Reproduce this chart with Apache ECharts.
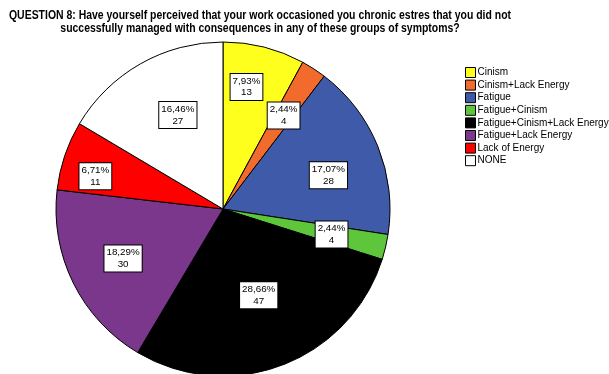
<!DOCTYPE html>
<html>
<head>
<meta charset="utf-8">
<script src="https://cdn.jsdelivr.net/npm/echarts@6/dist/echarts.min.js"></script>
<style>
  html, body { margin: 0; padding: 0; background: #fff; }
  #chart { width: 609px; height: 374px; }
</style>
</head>
<body>
<div id="chart"></div>
<script>
// Symptom groups and respondent counts
const categories = [
  'Cinism',
  'Cinism+Lack Energy',
  'Fatigue',
  'Fatigue+Cinism',
  'Fatigue+Cinism+Lack Energy',
  'Fatigue+Lack Energy',
  'Lack of Energy',
  'NONE'
];
const counts = [13, 4, 28, 4, 47, 30, 11, 27];

const titleLines = [
  'QUESTION 8: Have yourself perceived that your work occasioned you chronic estres that you did not',
  'successfully managed with consequences in any of these groups of symptoms?'
];

const sliceColors = {
  'Cinism': '#FFFF1E',
  'Cinism+Lack Energy': '#F26B2C',
  'Fatigue': '#3F5AA8',
  'Fatigue+Cinism': '#5EC63B',
  'Fatigue+Cinism+Lack Energy': '#000000',
  'Fatigue+Lack Energy': '#7A378C',
  'Lack of Energy': '#FF0000',
  'NONE': '#FFFFFF'
};
// fine placement of a few boxed labels
const labelShift = {
  'Cinism': [-4, -14],
  'Fatigue': [2, 8],
  'Fatigue+Cinism+Lack Energy': [-4, -18],
  'Lack of Energy': [-22, 3],
  'NONE': [10, 3]
};

const total = counts.reduce((a, b) => a + b, 0);
const pct = v => (v / total * 100).toFixed(2).replace('.', ',') + '%';

const pieData = categories.map((name, i) => ({
  name: name,
  value: counts[i],
  itemStyle: { color: sliceColors[name] }
}));
const labelData = categories.map((name, i) => ({
  name: name,
  value: counts[i],
  label: labelShift[name] ? { offset: labelShift[name] } : {}
}));

const center = [223, 209];
const R = 167;

// condensed bold heading: squeeze the first line to its printed width
const titleFont = 'bold 12.5px "Liberation Sans", Arial, sans-serif';
const ctx = document.createElement('canvas').getContext('2d');
ctx.font = titleFont;
const titleScale = 502 / ctx.measureText(titleLines[0]).width;

const chart = echarts.init(document.getElementById('chart'), null, { renderer: 'canvas' });
chart.setOption({
  backgroundColor: '#ffffff',
  animation: false,
  graphic: [
    {
      type: 'text',
      x: 260,
      y: 9,
      scaleX: titleScale,
      silent: true,
      style: {
        text: titleLines.join('\n'),
        font: titleFont,
        lineHeight: 13,
        textAlign: 'center',
        textVerticalAlign: 'top',
        fill: '#000'
      }
    }
  ],
  legend: {
    orient: 'vertical',
    left: 465,
    top: 67,
    padding: 0,
    itemWidth: 10,
    itemHeight: 10,
    itemGap: 1.6,
    icon: 'rect',
    selectedMode: false,
    itemStyle: { borderColor: '#000', borderWidth: 1 },
    textStyle: {
      fontFamily: 'Liberation Sans, Arial, sans-serif',
      fontSize: 10,
      lineHeight: 10,
      color: '#000',
      padding: [0, 0, 0, -3]
    },
    data: categories
  },
  series: [
    {
      type: 'pie',
      center: center,
      radius: [0, R],
      startAngle: 90,
      clockwise: true,
      silent: true,
      label: { show: false },
      labelLine: { show: false },
      itemStyle: { borderColor: '#000', borderWidth: 1 },
      data: pieData
    },
    {
      // transparent ring that only carries the boxed labels
      type: 'pie',
      center: center,
      radius: [50, R],
      startAngle: 90,
      clockwise: true,
      silent: true,
      legendHoverLink: false,
      avoidLabelOverlap: false,
      itemStyle: { color: 'rgba(0,0,0,0)', borderWidth: 0 },
      label: {
        show: true,
        position: 'inside',
        formatter: p => pct(p.value) + '\n' + p.value,
        fontFamily: 'Liberation Sans, Arial, sans-serif',
        fontSize: 9.8,
        lineHeight: 11.5,
        color: '#000',
        backgroundColor: '#fff',
        borderColor: '#000',
        borderWidth: 1,
        padding: [2, 2, 1, 2],
        align: 'center'
      },
      labelLine: { show: false },
      data: labelData
    }
  ]
});
</script>
</body>
</html>
